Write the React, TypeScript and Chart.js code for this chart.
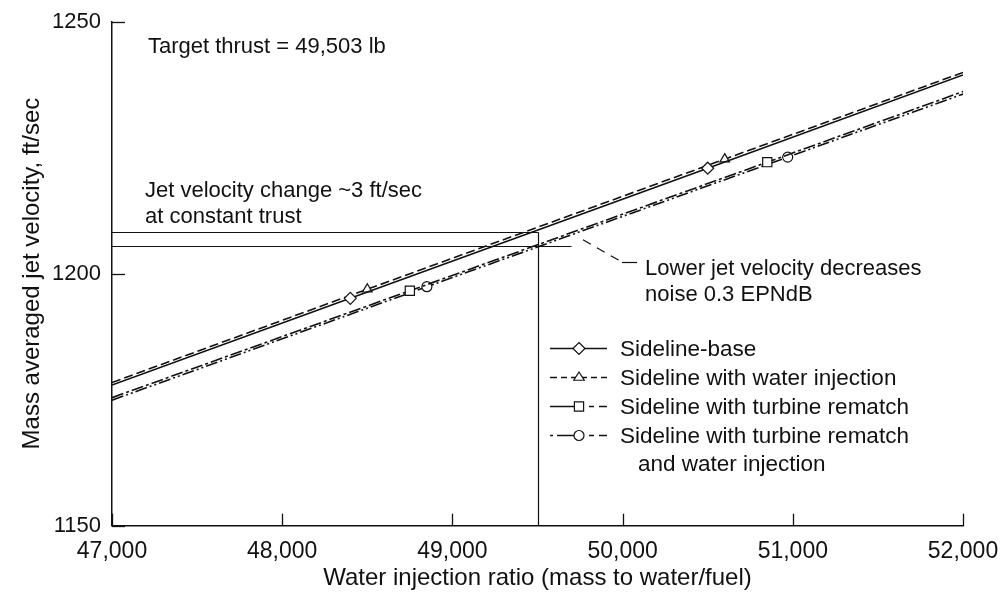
import React, { useEffect, useRef } from "react";
import { Chart, registerables } from "chart.js";

Chart.register(...registerables);

// ---------- Data ----------
const xMin = 47000;
const xMax = 52000;
const yMin = 1150;
const yMax = 1250;
const xTickValues = [47000, 48000, 49000, 50000, 51000, 52000];
const yTickValues = [1150, 1200, 1250];

const seriesLabels = [
  "Sideline-base",
  "Sideline with water injection",
  "Sideline with turbine rematch",
  "Sideline with turbine rematch",
];
const lastLabelSecondLine = "and water injection";

const baseX = [47000, 48400, 50500, 52000];
const baseY = [1177.9, 1195.1, 1220.9, 1239.4];
const waterX = [47000, 48500, 50600, 52000];
const waterY = [1178.4, 1196.9, 1222.7, 1239.9];
const rematchX = [47000, 48750, 50850, 52000];
const rematchY = [1175.4, 1196.6, 1222.1, 1236.1];
const rematchWaterX = [47000, 48850, 50970, 52000];
const rematchWaterY = [1174.9, 1197.4, 1223.1, 1235.6];

// annotation values
const targetThrust = 49503;
const velocityHigh = 1208.2;
const velocityLow = 1205.4;
const lowLineEndX = 49700;
const leaderX = [49767, 49996, 50085];
const leaderY = [1206.7, 1202.3, 1202.3];

const noteTarget = "Target thrust = 49,503 lb";
const noteJet1 = "Jet velocity change ~3 ft/sec";
const noteJet2 = "at constant trust";
const noteLower1 = "Lower jet velocity decreases";
const noteLower2 = "noise 0.3 EPNdB";
const noteTargetPos = [47211, 1243.75];
const noteJetPos = [47194, 1215.2, 1210.0];
const noteLowerPos = [50132, 1199.7, 1194.6];

const xTitle = "Water injection ratio (mass to water/fuel)";
const yTitle = "Mass averaged jet velocity, ft/sec";

// ---------- Styles ----------
const INK = "#111";
const FONT = '"Liberation Sans", Arial, Helvetica, sans-serif';
const pointStyles = ["rectRot", "triangle", "rect", "circle"];
const pointSizes = [6, 5.5, 6.5, 5];
const dashes = [[], [9, 4], [12, 3, 3, 3], [12, 3, 2, 3, 2, 3]];

const legendMarkX = 579;
const legendTextX = 620;
const legendTop = 347.5;
const legendRow = 29;
// segment layouts of the legend samples [x0, x1] in px
const legendSegs = [
  [[550, 607]],
  [[550, 557], [561, 567], [571, 587], [591, 597], [601, 607]],
  [[550, 575], [589, 594], [599, 607]],
  [[550, 553], [557, 575], [589, 594], [599, 607]],
];

function mkData(xs: number[], ys: number[]) {
  return xs.map((x, i) => ({ x, y: ys[i] }));
}

function drawMarker(ctx: CanvasRenderingContext2D, style: string, x: number, y: number, r: number) {
  ctx.beginPath();
  if (style === "rectRot") {
    ctx.moveTo(x, y - r);
    ctx.lineTo(x + r, y);
    ctx.lineTo(x, y + r);
    ctx.lineTo(x - r, y);
    ctx.closePath();
  } else if (style === "triangle") {
    const h = r * 1.5;
    const w = (r * Math.sqrt(3)) / 2;
    ctx.moveTo(x, y - r);
    ctx.lineTo(x + w + 0.5, y + h - r);
    ctx.lineTo(x - w - 0.5, y + h - r);
    ctx.closePath();
  } else if (style === "rect") {
    const s = r * Math.SQRT1_2;
    ctx.rect(x - s, y - s, 2 * s, 2 * s);
  } else {
    ctx.arc(x, y, r, 0, Math.PI * 2);
  }
  ctx.fillStyle = "#fff";
  ctx.fill();
  ctx.setLineDash([]);
  ctx.lineWidth = 1.2;
  ctx.strokeStyle = INK;
  ctx.stroke();
}

const overlayPlugin = {
  id: "overlay",
  afterDraw(chart: any) {
    const { ctx, chartArea } = chart;
    const xs = chart.scales.x;
    const ys = chart.scales.y;
    const px = (v: number) => xs.getPixelForValue(v);
    const py = (v: number) => ys.getPixelForValue(v);
    const seg = (x0: number, y0: number, x1: number, y1: number) => {
      ctx.beginPath();
      ctx.moveTo(x0, y0);
      ctx.lineTo(x1, y1);
      ctx.stroke();
    };
    ctx.save();
    ctx.strokeStyle = INK;
    ctx.lineWidth = 1.3;
    ctx.setLineDash([]);
    // inward ticks
    yTickValues.forEach((v) => {
      const y = Math.round(py(v)) + 0.5;
      seg(chartArea.left, y, chartArea.left + 13, y);
    });
    xTickValues.forEach((v) => {
      const x = Math.round(px(v)) + 0.5;
      seg(x, chartArea.bottom, x, chartArea.bottom - 12);
    });

    // annotation lines
    ctx.lineWidth = 1.2;
    const yh = Math.round(py(velocityHigh)) + 0.5;
    const yl = Math.round(py(velocityLow)) + 0.5;
    const xv = Math.round(px(targetThrust)) + 0.5;
    seg(chartArea.left, yh, xv, yh);
    seg(chartArea.left, yl, px(lowLineEndX), yl);
    seg(xv, yh, xv, chartArea.bottom);
    ctx.setLineDash([9, 7]);
    seg(px(leaderX[0]), py(leaderY[0]), px(leaderX[1]), py(leaderY[1]));
    ctx.setLineDash([]);
    seg(px(leaderX[1]), Math.round(py(leaderY[1])) + 0.5, px(leaderX[2]), Math.round(py(leaderY[2])) + 0.5);

    // notes
    ctx.fillStyle = INK;
    ctx.font = "22px " + FONT;
    ctx.textAlign = "left";
    ctx.textBaseline = "alphabetic";
    ctx.fillText(noteTarget, px(noteTargetPos[0]), py(noteTargetPos[1]));
    ctx.fillText(noteJet1, px(noteJetPos[0]), py(noteJetPos[1]));
    ctx.fillText(noteJet2, px(noteJetPos[0]), py(noteJetPos[2]));
    ctx.fillText(noteLower1, px(noteLowerPos[0]), py(noteLowerPos[1]));
    ctx.fillText(noteLower2, px(noteLowerPos[0]), py(noteLowerPos[2]));

    // legend
    ctx.font = "22.5px " + FONT;
    ctx.textBaseline = "middle";
    seriesLabels.forEach((label, i) => {
      const y = Math.round(legendTop + i * legendRow) + 0.5;
      ctx.lineWidth = 1.5;
      ctx.strokeStyle = INK;
      ctx.setLineDash([]);
      legendSegs[i].forEach(([a, b]) => seg(a, y, b, y));
      drawMarker(ctx, pointStyles[i], legendMarkX, y, pointSizes[i]);
      ctx.fillStyle = INK;
      ctx.fillText(label, legendTextX, y + 1);
    });
    ctx.fillText(lastLabelSecondLine, legendTextX + 18, legendTop + 4 * legendRow + 1);
    ctx.restore();
  },
};

export default function App() {
  const canvasRef = useRef<HTMLCanvasElement | null>(null);

  useEffect(() => {
    const canvas = canvasRef.current;
    if (!canvas) return;
    const seriesX = [baseX, waterX, rematchX, rematchWaterX];
    const seriesY = [baseY, waterY, rematchY, rematchWaterY];
    const datasets = seriesLabels.map((label, i) => ({
      label,
      data: mkData(seriesX[i], seriesY[i]),
      borderColor: INK,
      borderWidth: 1.6,
      borderDash: dashes[i],
      pointStyle: pointStyles[i],
      pointRadius: seriesX[i].map((_, j) => (j === 0 || j === seriesX[i].length - 1 ? 0 : pointSizes[i])),
      pointBackgroundColor: "#fff",
      pointBorderColor: INK,
      pointBorderWidth: 1.2,
      fill: false,
      tension: 0,
    }));

    const chart = new Chart(canvas, {
      type: "line",
      data: { datasets },
      options: {
        animation: false,
        responsive: false,
        layout: { padding: { top: 21.5, right: 37, left: 0, bottom: 0 } },
        plugins: { legend: { display: false }, tooltip: { enabled: false } },
        scales: {
          x: {
            type: "linear",
            min: xMin,
            max: xMax,
            afterBuildTicks: (s: any) => {
              s.ticks = xTickValues.map((v) => ({ value: v }));
            },
            afterFit: (s: any) => {
              s.height = 71.3;
              s.paddingLeft = 0;
              s.paddingRight = 0;
            },
            ticks: {
              color: INK,
              font: { family: FONT, size: 23 },
              padding: 12,
              maxRotation: 0,
              callback: (v: any) => Number(v).toLocaleString("en-US"),
            },
            grid: { display: false, drawTicks: false },
            border: { display: true, color: INK, width: 1.5 },
            title: {
              display: true,
              text: xTitle,
              color: INK,
              font: { family: FONT, size: 24 },
              padding: { top: 0, bottom: 4 },
            },
          },
          y: {
            type: "linear",
            min: yMin,
            max: yMax,
            afterBuildTicks: (s: any) => {
              s.ticks = yTickValues.map((v) => ({ value: v }));
            },
            afterFit: (s: any) => {
              s.width = 112;
              s.paddingTop = 0;
              s.paddingBottom = 0;
            },
            ticks: {
              color: INK,
              font: { family: FONT, size: 22 },
              padding: 11,
              callback: (v: any) => String(v),
            },
            grid: { display: false, drawTicks: false },
            border: { display: true, color: INK, width: 1.5 },
            title: {
              display: true,
              text: yTitle,
              color: INK,
              font: { family: FONT, size: 24 },
              padding: { top: 18, bottom: 0 },
            },
          },
        },
      },
      plugins: [overlayPlugin],
    } as any);
    return () => chart.destroy();
  }, []);

  return (
    <div style={{ position: "absolute", left: 0, top: 0, width: 1000, height: 597, background: "#fff" }}>
      <canvas ref={canvasRef} width={1000} height={597} />
    </div>
  );
}
